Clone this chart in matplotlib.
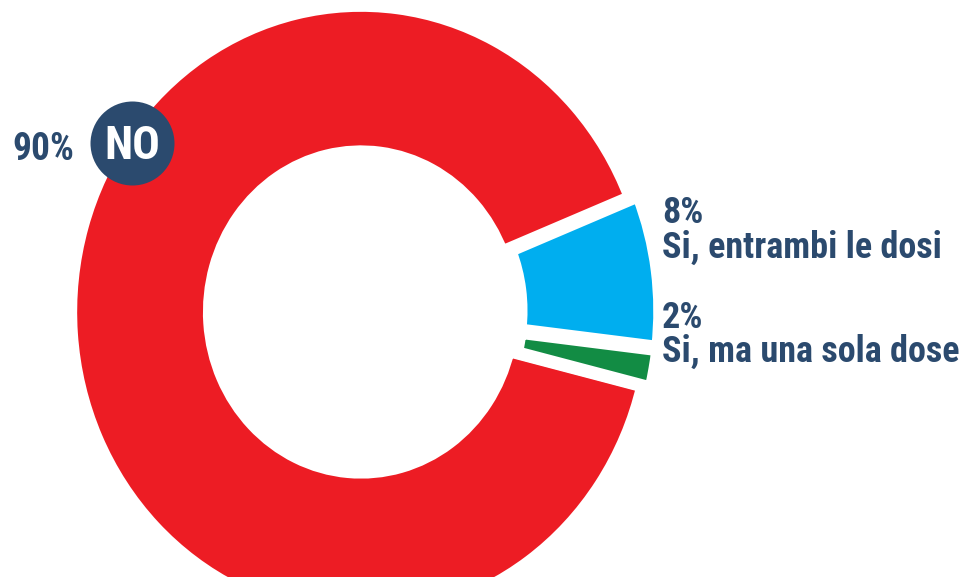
import numpy as np
import matplotlib.pyplot as plt

# --- DATA ---
labels = ["NO", "Si, entrambi le dosi", "Si, ma una sola dose"]
values = [90, 8, 2]
pct_labels = ["90%", "8%", "2%"]
colors = ["#ed1c24", "#00aeef", "#128c44"]
explode = [0, 0.03, 0.03]

NAVY = "#2b4a6e"
FONT = ["Liberation Sans Narrow", "Roboto Condensed", "DejaVu Sans"]

# --- LAYOUT (pixels) ---
W, H = 964, 577
cx, cy = 361, 312       # donut centre
Rx, Ry = 284, 300       # px per data unit (ring is a touch narrower than tall)
lw_pt = 9               # white separators
lw_px = lw_pt * 100 / 72
R_avg = (Rx + Ry) / 2

fig = plt.figure(figsize=(W / 100, H / 100), dpi=100)
ax = fig.add_axes([0, 0, 1, 1])

# white edges eat half a stroke on each side, so grow the wedge to compensate
wedges, _ = ax.pie(values, colors=colors, explode=explode, startangle=-14,
                   counterclock=False, radius=1 + lw_px / 2 / R_avg,
                   wedgeprops=dict(width=0.444 + lw_px / R_avg,
                                   edgecolor="white", linewidth=lw_pt))

ax.set_aspect("auto")
ax.set_xlim(-cx / Rx, (W - cx) / Rx)
ax.set_ylim(-(H - cy) / Ry, cy / Ry)
ax.axis("off")

# "NO" badge on the red ring (marker keeps it round)
ax.plot((132 - cx) / Rx, (cy - 143) / Ry, "o", ms=2 * 42 * 0.72,
        color=NAVY, mec="none", zorder=5)

def px_text(x, y, s, **kw):
    fig.text(x / W, 1 - y / H, s, family=FONT, weight="bold", va="baseline", **kw)

px_text(12, 160, pct_labels[0], color=NAVY, fontsize=27)
px_text(132, 159, labels[0], color="white", fontsize=33, ha="center", zorder=6)

px_text(662, 223, pct_labels[1], color=NAVY, fontsize=26)
px_text(662, 258, labels[1], color=NAVY, fontsize=26)
px_text(662, 328, pct_labels[2], color=NAVY, fontsize=26)
px_text(662, 362, labels[2], color=NAVY, fontsize=26)

fig.savefig("out.png", dpi=100, facecolor="white")
